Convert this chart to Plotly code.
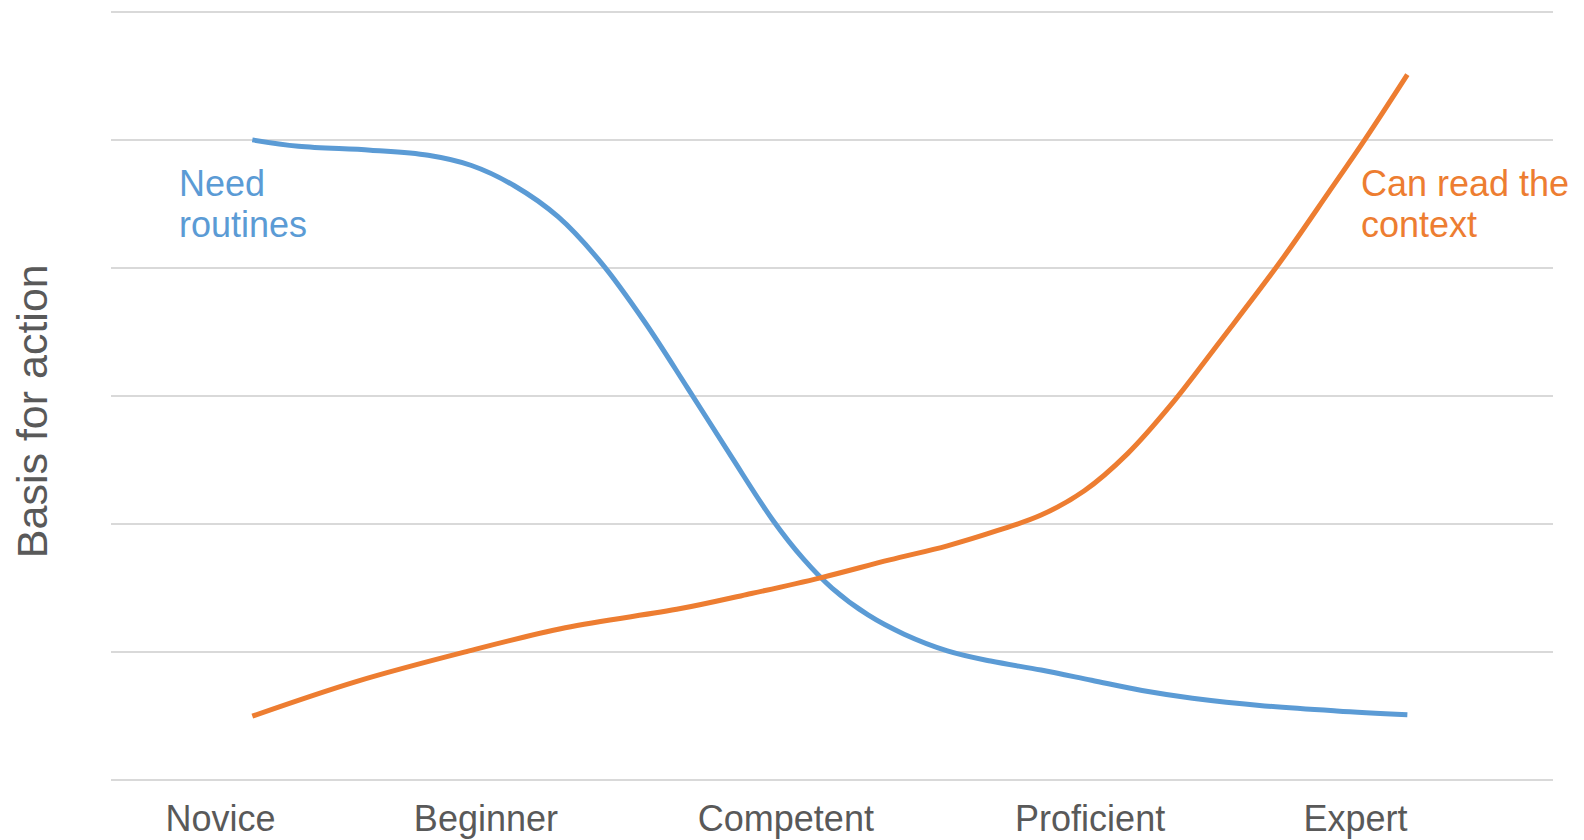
import plotly.graph_objects as go

# Stages (x-axis tick labels) and their positions on a 0-10 horizontal scale
stages = ["Novice", "Beginner", "Competent", "Proficient", "Expert"]
stage_pos = [0.76, 2.60, 4.68, 6.79, 8.63]

# "Need routines" curve
routines_x = [0.98, 1.30, 1.80, 2.20, 2.50, 2.80, 3.10, 3.40, 3.70, 4.00, 4.30, 4.59,
              4.80, 5.00, 5.25, 5.50, 5.80, 6.10, 6.45, 6.80, 7.15, 7.50, 8.00, 8.50, 8.99]
routines_y = [5.00, 4.95, 4.92, 4.88, 4.80, 4.64, 4.40, 4.04, 3.58, 3.06, 2.53, 2.03,
              1.73, 1.50, 1.29, 1.14, 1.01, 0.93, 0.86, 0.78, 0.70, 0.64, 0.58, 0.54, 0.51]

# "Can read the context" curve
context_x = [0.98, 1.70, 2.45, 3.15, 3.95, 4.41, 4.92, 5.40, 5.80, 6.15, 6.45, 6.75,
             7.05, 7.35, 7.70, 8.11, 8.45, 8.70, 8.99]
context_y = [0.50, 0.77, 1.00, 1.19, 1.34, 1.45, 1.58, 1.72, 1.83, 1.95, 2.07, 2.26,
             2.55, 2.93, 3.44, 4.05, 4.60, 5.01, 5.51]

BLUE = "#5B9BD5"
ORANGE = "#ED7D31"
GREY = "#595959"
FONT = "Liberation Sans, Arial, sans-serif"

fig = go.Figure()
fig.add_trace(go.Scatter(x=routines_x, y=routines_y, mode="lines",
                         line=dict(color=BLUE, width=5, shape="spline", smoothing=1.0),
                         name="Need routines", showlegend=False, hoverinfo="skip"))
fig.add_trace(go.Scatter(x=context_x, y=context_y, mode="lines",
                         line=dict(color=ORANGE, width=5, shape="spline", smoothing=1.0),
                         name="Can read the context", showlegend=False, hoverinfo="skip"))

# Curve labels (one annotation per line for tight line spacing)
for txt, yv in [("Need", 4.66), ("routines", 4.34)]:
    fig.add_annotation(x=0.46, y=yv, xref="x", yref="y", text=txt, showarrow=False,
                       xanchor="left", yanchor="middle",
                       font=dict(family=FONT, size=36, color=BLUE))
for txt, yv in [("Can read the", 4.66), ("context", 4.34)]:
    fig.add_annotation(x=8.655, y=yv, xref="x", yref="y", text=txt, showarrow=False,
                       xanchor="left", yanchor="middle",
                       font=dict(family=FONT, size=36, color=ORANGE))

fig.add_annotation(x=-0.055, y=0.48, xref="paper", yref="paper", text="Basis for action",
                   showarrow=False, xanchor="center", yanchor="middle", textangle=-90,
                   font=dict(family=FONT, size=43, color=GREY))

fig.update_layout(
    width=1584, height=840,
    margin=dict(l=111, r=31, t=8, b=56),
    plot_bgcolor="white", paper_bgcolor="white",
    font=dict(family=FONT, color=GREY),
    xaxis=dict(range=[0, 10], tickvals=stage_pos, ticktext=stages, showgrid=False,
               zeroline=False, showline=False, ticks="", automargin=False,
               tickfont=dict(size=36, color=GREY, family=FONT), ticklabelstandoff=10),
    yaxis=dict(range=[-0.03, 6.03], tickvals=[0, 1, 2, 3, 4, 5, 6], showticklabels=False,
               showgrid=True, gridcolor="#D9D9D9", gridwidth=1.5, zeroline=False,
               showline=False, ticks="", automargin=False),
)

fig.write_html("out.html", config={"displayModeBar": False},
               post_script="document.body.style.margin='0';")
